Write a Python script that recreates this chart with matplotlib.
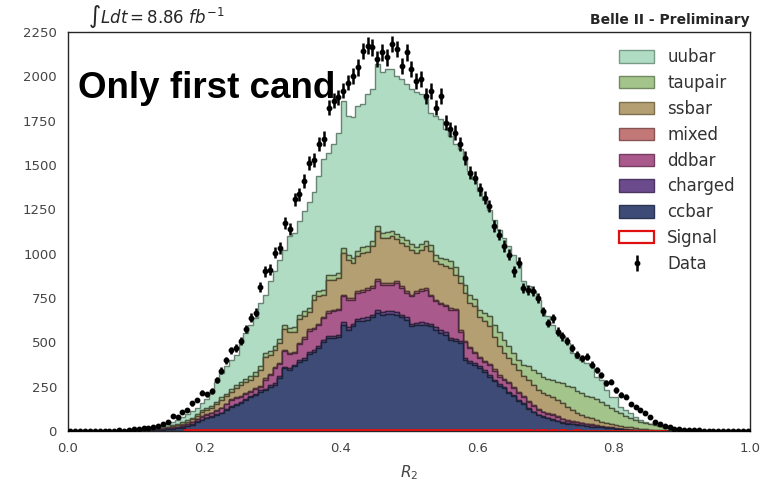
"""R2 distribution: stacked continuum/BB MC, signal and data (first candidate only)."""

import matplotlib

matplotlib.use("Agg")
import matplotlib.pyplot as plt
from matplotlib.colors import to_rgb
from matplotlib.patches import Patch
import numpy as np

plt.rcParams.update(
    {
        "font.family": ["DejaVu Sans"],
        "font.size": 9.5,
        "axes.edgecolor": "#262626",
        "axes.linewidth": 1.0,
        "xtick.major.size": 0,
        "ytick.major.size": 0,
        "xtick.color": "#444444",
        "ytick.color": "#444444",
        "xtick.labelsize": 9.5,
        "ytick.labelsize": 9.5,
        "mathtext.default": "it",
    }
)

# 140 bins of R2 in [0, 1]
N_BINS = 140
EDGES = np.linspace(0.0, 1.0, N_BINS + 1)

ccbar = [
    0, 0, 0, 0, 0, 0, 0, 0, 0, 0,
    0, 0, 0, 0, 1, 2, 3, 4, 5, 7,
    9, 12, 15, 19, 26, 36, 52, 62, 72, 81,
    92, 100, 118, 137, 145, 156, 175, 194, 205, 222,
    232, 250, 262, 300, 354, 345, 365, 390, 400, 435,
    445, 470, 500, 525, 525, 530, 599, 571, 590, 618,
    620, 627, 640, 665, 655, 658, 660, 656, 640, 627,
    590, 595, 599, 595, 590, 570, 555, 543, 514, 505,
    496, 401, 383, 373, 355, 335, 307, 280, 255, 240,
    215, 195, 170, 150, 125, 105, 88, 80, 72, 64,
    55, 47, 42, 40, 35, 32, 28, 24, 22, 20,
    17, 15, 12, 9, 6, 4, 2, 1, 0, 0,
    0, 0, 0, 0, 0, 0, 0, 0, 0, 0,
    0, 0, 0, 0, 0, 0, 0, 0, 0, 0,
]
charged = [
    0, 0, 0, 0, 0, 0, 0, 0, 0, 0,
    0, 0, 0, 0, 0, 0, 0, 0, 0, 1,
    1, 1, 1, 1, 1, 2, 2, 2, 3, 3,
    3, 4, 4, 5, 5, 5, 6, 6, 6, 7,
    7, 7, 8, 8, 9, 9, 9, 10, 10, 11,
    11, 12, 12, 13, 13, 13, 15, 14, 15, 15,
    16, 16, 16, 17, 16, 16, 17, 16, 16, 16,
    15, 15, 15, 15, 15, 14, 14, 14, 13, 13,
    12, 11, 10, 10, 10, 9, 9, 8, 8, 7,
    7, 6, 6, 5, 5, 4, 4, 3, 3, 3,
    3, 2, 2, 2, 2, 2, 2, 1, 1, 1,
    1, 0, 0, 0, 0, 0, 0, 0, 0, 0,
    0, 0, 0, 0, 0, 0, 0, 0, 0, 0,
    0, 0, 0, 0, 0, 0, 0, 0, 0, 0,
]
ddbar = [
    0, 0, 0, 0, 0, 0, 0, 0, 0, 0,
    0, 0, 0, 1, 1, 1, 1, 2, 3, 3,
    5, 6, 8, 10, 11, 12, 12, 17, 15, 16,
    20, 24, 28, 33, 35, 33, 27, 22, 25, 21,
    51, 58, 85, 72, 89, 81, 66, 90, 110, 119,
    119, 113, 125, 127, 136, 137, 145, 155, 135, 145,
    149, 154, 149, 162, 154, 151, 148, 163, 151, 137,
    154, 168, 176, 187, 154, 147, 146, 146, 157, 162,
    52, 88, 74, 57, 45, 46, 54, 52, 44, 38,
    48, 39, 37, 35, 36, 31, 27, 22, 21, 23,
    20, 17, 14, 11, 11, 9, 8, 9, 5, 3,
    2, 1, 0, 0, 1, 1, 2, 2, 2, 1,
    0, 0, 0, 0, 0, 0, 0, 0, 0, 0,
    0, 0, 0, 0, 0, 0, 0, 0, 0, 0,
]
mixed = [
    0, 0, 0, 0, 0, 0, 0, 0, 0, 0,
    0, 0, 0, 0, 0, 0, 0, 0, 1, 1,
    1, 1, 1, 2, 2, 2, 2, 3, 3, 3,
    3, 3, 4, 4, 4, 4, 5, 5, 5, 5,
    6, 6, 6, 6, 7, 7, 7, 7, 8, 8,
    8, 8, 8, 9, 9, 9, 10, 10, 10, 10,
    10, 10, 11, 11, 11, 11, 11, 11, 10, 10,
    10, 10, 10, 10, 10, 10, 9, 9, 9, 9,
    9, 8, 8, 8, 7, 7, 7, 7, 6, 6,
    6, 6, 5, 5, 5, 5, 4, 4, 4, 4,
    4, 4, 4, 4, 4, 4, 4, 4, 4, 4,
    4, 4, 4, 4, 4, 3, 3, 3, 3, 2,
    2, 2, 1, 1, 0, 0, 0, 0, 0, 0,
    0, 0, 0, 0, 0, 0, 0, 0, 0, 0,
]
ssbar = [
    0, 0, 0, 0, 0, 0, 0, 0, 0, 0,
    0, 0, 0, 0, 0, 1, 2, 2, 2, 3,
    4, 6, 8, 10, 12, 13, 17, 25, 25, 25,
    32, 44, 41, 43, 51, 62, 62, 61, 69, 90,
    124, 109, 97, 110, 116, 114, 113, 133, 122, 97,
    157, 159, 124, 180, 167, 174, 236, 217, 198, 197,
    210, 203, 226, 272, 253, 253, 262, 234, 244, 252,
    254, 217, 220, 235, 245, 216, 216, 217, 227, 191,
    266, 272, 247, 255, 223, 223, 213, 183, 164, 149,
    135, 134, 127, 115, 117, 115, 109, 106, 105, 100,
    93, 86, 73, 62, 48, 43, 38, 34, 30, 25,
    22, 20, 19, 17, 14, 12, 8, 6, 5, 5,
    4, 2, 2, 1, 1, 0, 0, 0, 0, 0,
    0, 0, 0, 0, 0, 0, 0, 0, 0, 0,
]
taupair = [
    0, 0, 0, 0, 0, 0, 0, 0, 0, 0,
    0, 0, 1, 1, 1, 1, 1, 2, 3, 4,
    5, 6, 7, 8, 8, 9, 10, 11, 12, 12,
    14, 15, 16, 17, 18, 19, 20, 21, 22, 22,
    20, 22, 23, 24, 22, 25, 24, 25, 27, 26,
    25, 27, 28, 25, 28, 30, 26, 28, 30, 28,
    30, 31, 30, 28, 30, 32, 31, 33, 32, 34,
    33, 35, 34, 32, 36, 38, 37, 39, 40, 42,
    41, 43, 44, 42, 44, 48, 56, 70, 84, 72,
    66, 60, 56, 62, 76, 82, 94, 90, 88, 94,
    100, 114, 120, 131, 125, 123, 120, 122, 116, 113,
    100, 88, 80, 70, 62, 52, 46, 41, 36, 32,
    26, 22, 17, 13, 9, 6, 4, 2, 1, 0,
    0, 0, 0, 0, 0, 0, 0, 0, 0, 0,
]
uubar = [
    0, 0, 0, 0, 0, 0, 0, 0, 0, 0,
    1, 2, 2, 3, 4, 5, 6, 7, 8, 11,
    13, 18, 22, 28, 35, 38, 37, 35, 50, 73,
    115, 136, 153, 162, 172, 217, 257, 290, 305, 355,
    329, 392, 420, 447, 426, 517, 534, 528, 563, 594,
    585, 651, 735, 691, 739, 790, 831, 782, 795, 820,
    808, 858, 856, 914, 903, 920, 912, 890, 891, 880,
    872, 869, 845, 797, 746, 782, 781, 733, 704, 695,
    714, 717, 700, 675, 669, 632, 603, 590, 575, 578,
    565, 550, 547, 472, 456, 448, 414, 379, 353, 312,
    296, 263, 241, 189, 186, 188, 183, 179, 129, 122,
    86, 66, 75, 37, 32, 28, 20, 7, 2, 0,
    0, 0, 0, 0, 0, 0, 0, 0, 0, 0,
    0, 0, 0, 0, 0, 0, 0, 0, 0, 0,
]
signal = [
    0, 0, 0, 0, 0, 0, 0, 0, 0, 0,
    0, 0, 0, 0, 0, 0, 0, 0, 0, 0,
    0, 0, 0, 0, 5, 6, 7, 7, 8, 8,
    8, 7, 8, 8, 7, 8, 8, 7, 8, 8,
    7, 8, 8, 7, 8, 8, 7, 8, 7, 8,
    6, 6, 5, 4, 4, 3, 4, 4, 3, 4,
    4, 3, 4, 4, 3, 4, 3, 4, 4, 3,
    4, 3, 3, 4, 3, 3, 4, 3, 3, 3,
    3, 3, 3, 3, 3, 3, 3, 3, 3, 3,
    3, 3, 3, 3, 3, 2, 3, 3, 2, 3,
    2, 3, 2, 2, 3, 2, 2, 2, 2, 2,
    2, 2, 2, 2, 2, 2, 2, 2, 2, 1,
    1, 1, 1, 0, 0, 0, 0, 0, 0, 0,
    0, 0, 0, 0, 0, 0, 0, 0, 0, 0,
]
data = [
    0, 0, 0, 0, 0, 0, 0, 1, 0, 1,
    4, 2, 5, 10, 9, 14, 18, 20, 28, 42,
    48, 82, 78, 108, 121, 155, 174, 216, 208, 226,
    288, 340, 398, 455, 467, 505, 575, 638, 668, 812,
    900, 910, 1005, 1033, 1175, 1141, 1306, 1334, 1409, 1513,
    1528, 1617, 1649, 1824, 1862, 1881, 1920, 1965, 2000, 2050,
    2144, 2173, 2163, 2097, 2135, 2107, 2182, 2154, 2060, 2135,
    2041, 1975, 1984, 1890, 1918, 1824, 1890, 1739, 1701, 1683,
    1617, 1541, 1457, 1428, 1362, 1315, 1268, 1155, 1108, 1042,
    995, 901, 948, 807, 797, 788, 750, 675, 609, 637,
    561, 533, 505, 467, 430, 411, 420, 373, 345, 317,
    270, 279, 232, 204, 194, 153, 137, 119, 100, 81,
    53, 40, 28, 21, 12, 9, 6, 5, 3, 3,
    2, 2, 1, 1, 1, 0, 0, 0, 0, 0,
]

# stacking order, bottom first
LAYERS = [
    ("ccbar", ccbar, "#3d4b76"),
    ("charged", charged, "#6c4b8d"),
    ("ddbar", ddbar, "#a9598b"),
    ("mixed", mixed, "#c27877"),
    ("ssbar", ssbar, "#b39f71"),
    ("taupair", taupair, "#a3c48b"),
    ("uubar", uubar, "#afdcc3"),
]


def darker(color, f=0.45):
    r, g, b = to_rgb(color)
    return (r * f, g * f, b * f)


def main():
    for name, vals, _ in LAYERS:
        if len(vals) != N_BINS:
            raise ValueError(f"{name}: {len(vals)} bins")

    centers = 0.5 * (EDGES[:-1] + EDGES[1:])

    fig = plt.figure(figsize=(7.66, 4.83), dpi=100)
    ax = fig.add_axes([0.0888, 0.1077, 0.8903, 0.826])

    names = [n for n, _, _ in LAYERS]
    weights = [np.asarray(v, dtype=float) for _, v, _ in LAYERS]
    fills = [c for _, _, c in LAYERS]
    _, _, patches = ax.hist(
        [centers] * len(LAYERS),
        bins=EDGES,
        weights=weights,
        stacked=True,
        histtype="stepfilled",
        color=fills,
        label=names,
        zorder=2,
    )
    for plist, c in zip(patches, fills):
        for p in plist:
            p.set_edgecolor(darker(c, 0.45 if c != "#afdcc3" else 0.6))
            p.set_linewidth(1.0)

    sig = np.asarray(signal, dtype=float)
    nz = np.nonzero(sig)[0]
    lo, hi = nz[0], nz[-1] + 1
    ax.stairs(sig[lo:hi], EDGES[lo:hi + 1], color="#e01010", lw=2.0, zorder=3)

    d = np.asarray(data, dtype=float)
    ax.errorbar(
        centers, d, yerr=np.sqrt(d), fmt="o", color="black",
        ms=3.2, elinewidth=1.8, capsize=0, zorder=4, label="Data",
    )

    ax.set_xlim(0, 1)
    ax.set_ylim(0, 2250)
    ax.set_yticks(np.arange(0, 2251, 250))
    ax.set_xticks(np.arange(0, 1.01, 0.2))
    ax.set_xlabel("$R_2$", fontsize=11, color="#444444", labelpad=6)
    ax.tick_params(axis="both", pad=8)

    ax.text(0.03, 1.004, r"$\int Ldt = 8.86\ fb^{-1}$", transform=ax.transAxes,
            ha="left", va="bottom", fontsize=12, color="#262626")
    ax.text(1.0, 1.012, "Belle II - Preliminary", transform=ax.transAxes,
            ha="right", va="bottom", fontsize=10, fontweight="bold", color="#262626")
    ax.text(0.015, 0.858, "Only first cand", transform=ax.transAxes,
            ha="left", va="center", fontsize=26.5, fontweight="bold",
            family=["Liberation Sans", "DejaVu Sans"], color="black", zorder=5)

    handles = [
        Patch(facecolor=c, edgecolor=darker(c, 0.7), label=n)
        for n, _, c in reversed(LAYERS)
    ]
    handles.append(Patch(facecolor="white", edgecolor="#e01010", lw=1.6, label="Signal"))
    dat_h = ax.errorbar([], [], yerr=[], fmt="o", color="black", ms=3.2, elinewidth=1.8)
    dat_h.set_label("Data")
    handles.append(dat_h)
    leg = ax.legend(
        handles=handles,
        loc="upper right",
        bbox_to_anchor=(1.0, 0.997),
        frameon=False,
        fontsize=12,
        handlelength=2.1,
        handleheight=0.75,
        labelspacing=0.47,
        handletextpad=0.8,
    )
    for t in leg.get_texts():
        t.set_color("#333333")

    fig.savefig("out.png", dpi=100)
    plt.close(fig)


if __name__ == "__main__":
    main()
